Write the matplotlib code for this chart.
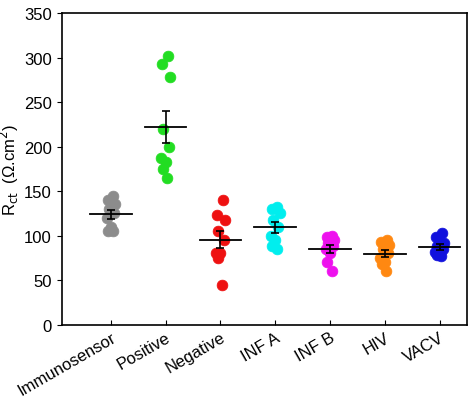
import matplotlib
matplotlib.use("Agg")
import matplotlib.pyplot as plt
import numpy as np

plt.rcParams['font.family'] = ['Liberation Sans', 'DejaVu Sans']

categories = ["Immunosensor", "Positive", "Negative", "INF A", "INF B", "HIV", "VACV"]
colors = ["#8c8c8c", "#22dd22", "#ee1111", "#00eeee", "#ee11ee", "#ff8811", "#1111dd"]
values = [
    [145, 140, 135, 130, 125, 120, 110, 105, 105],
    [302, 293, 278, 220, 200, 187, 183, 175, 165],
    [140, 123, 117, 105, 95, 80, 80, 75, 45],
    [132, 130, 125, 118, 110, 100, 95, 88, 85],
    [100, 98, 95, 92, 88, 85, 80, 70, 60],
    [95, 93, 90, 85, 80, 75, 70, 68, 60],
    [103, 98, 92, 88, 85, 82, 80, 78, 77],
]
jitter = [0.04, -0.06, 0.08, -0.04, 0.06, -0.08, 0.0, -0.05, 0.03]

fig = plt.figure(figsize=(4.74, 4.02), dpi=100)
ax = fig.add_axes([0.13, 0.19, 0.855, 0.775])
for i, (v, c) in enumerate(zip(values, colors)):
    v = np.array(v, float)
    xs = i + np.array(jitter)
    ax.scatter(xs, v, s=60, color=c, edgecolors=c, linewidths=0.5, zorder=3)
    m = v.mean(); se = v.std(ddof=1) / np.sqrt(len(v))
    ax.plot([i - 0.38, i + 0.38], [m, m], color='black', lw=1.3, zorder=4)
    ax.errorbar(i, m, yerr=se, color='black', capsize=3, lw=1.2, capthick=1.2, zorder=4)

ax.set_xlim(-0.9, 6.5)
ax.set_ylim(0, 350)
ax.set_yticks(range(0, 351, 50))
ax.set_xticks(range(len(categories)))
ax.set_xticklabels(categories, rotation=30, ha='right', rotation_mode='anchor', fontsize=12)
ax.tick_params(axis='y', labelsize=12, direction='out')
ax.tick_params(axis='x', direction='in')
ax.set_ylabel(r"R$_{\rm ct}$  (Ω.cm$^2$)", fontsize=12, labelpad=2)
for s in ax.spines.values():
    s.set_linewidth(1.2)
fig.savefig("out.png", dpi=100)
